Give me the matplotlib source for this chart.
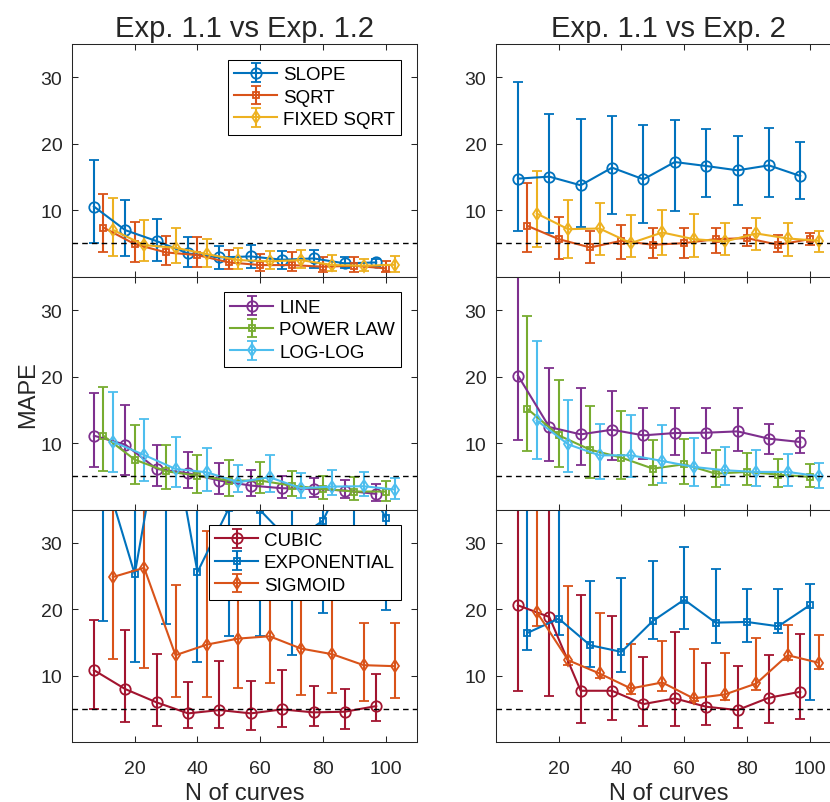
import numpy as np
import matplotlib.pyplot as plt

plt.rcParams["font.family"] = ["Liberation Sans", "DejaVu Sans"]

# MATLAB default colour order
BLUE = "#0072BD"
ORANGE = "#D95319"
YELLOW = "#EDB120"
PURPLE = "#7E2F8E"
GREEN = "#77AC30"
CYAN = "#4DBEEE"
DARKRED = "#A2142F"

n_curves = np.array([10, 20, 30, 40, 50, 60, 70, 80, 90, 100])

# ---- Exp. 1.1 vs Exp. 1.2 ----
slope_12 = [10.55, 7.0, 5.35, 3.5, 2.9, 3.05, 2.55, 2.75, 2.0, 2.15]
slope_12_hi = [17.55, 11.6, 8.75, 5.9, 4.65, 4.75, 3.9, 4.0, 2.9, 2.65]
slope_12_lo = [5.05, 3.15, 2.4, 1.5, 1.15, 1.35, 1.15, 1.25, 1.25, 1.45]
sqrt_12 = [7.4, 4.9, 3.65, 3.25, 2.15, 1.75, 1.75, 1.5, 1.65, 1.25]
sqrt_12_hi = [12.4, 8.25, 6.15, 5.95, 4.0, 3.4, 3.65, 2.9, 2.9, 2.4]
sqrt_12_lo = [3.65, 2.25, 1.75, 1.45, 1.15, 0.9, 0.9, 0.65, 0.75, 0.65]
fixed_12 = [7.05, 4.75, 4.35, 3.4, 2.5, 2.3, 2.5, 1.75, 1.65, 1.8]
fixed_12_hi = [11.9, 8.5, 7.4, 5.65, 4.3, 3.85, 4.05, 3.25, 2.65, 3.15]
fixed_12_lo = [3.15, 2.4, 2.0, 1.4, 1.15, 1.15, 1.25, 0.9, 0.9, 0.65]

line_12 = [11.1, 9.75, 6.1, 5.45, 4.35, 3.6, 3.2, 3.1, 2.85, 2.35]
line_12_hi = [17.45, 15.75, 9.75, 8.7, 7.0, 6.0, 5.1, 4.7, 4.45, 3.85]
line_12_lo = [6.45, 5.2, 3.6, 3.2, 2.35, 2.0, 1.75, 1.85, 1.75, 1.35]
power_12 = [11.1, 7.5, 5.75, 5.1, 4.35, 4.35, 3.6, 3.1, 2.7, 2.7]
power_12_hi = [18.35, 12.7, 9.7, 8.25, 7.45, 7.2, 5.85, 5.1, 4.85, 4.35]
power_12_lo = [5.85, 3.85, 3.1, 2.5, 2.1, 2.45, 2.1, 1.6, 1.45, 1.35]
loglog_12 = [10.2, 8.2, 6.1, 5.6, 4.1, 4.85, 3.2, 3.45, 3.5, 3.0]
loglog_12_hi = [17.6, 13.6, 10.85, 9.2, 6.7, 8.25, 5.5, 5.95, 5.6, 4.7]
loglog_12_lo = [5.7, 4.35, 3.45, 2.85, 2.7, 2.7, 1.75, 2.2, 2.1, 1.6]

cubic_12 = [10.85, 8.0, 6.0, 4.35, 4.85, 4.35, 4.95, 4.5, 4.6, 5.45]
cubic_12_hi = [18.35, 16.95, 13.25, 9.1, 12.25, 9.2, 10.85, 8.5, 8.0, 10.25]
cubic_12_lo = [4.95, 3.1, 2.5, 2.1, 2.2, 1.85, 2.35, 2.45, 1.95, 3.2]
expo_12 = [41.0, 25.3, 52.0, 25.6, 35.2, 34.9, 30.0, 33.35, 43.0, 33.75]
expo_12_hi = [60.0, 45.0, 70.0, 45.0, 50.0, 50.0, 48.0, 48.0, 60.0, 48.0]
expo_12_lo = [18.2, 12.1, 17.75, 12.1, 15.95, 16.0, 13.2, 19.45, 27.0, 19.95]
sigm_12 = [24.85, 26.25, 13.1, 14.7, 15.6, 15.95, 14.1, 13.25, 11.6, 11.45]
sigm_12_hi = [40.0, 40.0, 23.7, 31.75, 28.0, 27.0, 25.0, 24.0, 17.95, 18.0]
sigm_12_lo = [12.6, 11.25, 6.75, 6.75, 8.2, 8.85, 7.1, 7.35, 6.25, 6.6]

# ---- Exp. 1.1 vs Exp. 2 ----
slope_2 = [14.75, 15.05, 13.75, 16.4, 14.65, 17.25, 16.65, 16.0, 16.75, 15.15]
slope_2_hi = [29.25, 24.5, 23.75, 24.15, 22.75, 23.55, 22.25, 21.15, 22.4, 20.3]
slope_2_lo = [6.8, 6.5, 7.55, 9.4, 8.05, 9.9, 12.05, 10.75, 12.0, 11.65]
sqrt_2 = [7.65, 5.65, 4.4, 5.4, 4.8, 5.05, 5.65, 5.8, 4.8, 5.65]
sqrt_2_hi = [14.05, 9.05, 6.9, 7.75, 7.25, 7.25, 7.25, 7.25, 6.3, 6.55]
sqrt_2_lo = [3.65, 2.65, 2.0, 2.65, 2.8, 2.8, 3.5, 4.65, 3.65, 4.8]
fixed_2 = [9.5, 7.15, 7.25, 5.05, 6.65, 5.65, 5.3, 6.5, 5.75, 5.4]
fixed_2_hi = [15.9, 11.5, 11.05, 9.25, 10.05, 9.4, 8.05, 8.9, 8.05, 6.9]
fixed_2_lo = [4.5, 2.8, 3.3, 2.9, 3.3, 3.0, 3.25, 4.05, 3.15, 3.65]

line_2 = [20.15, 12.4, 11.3, 12.0, 11.15, 11.5, 11.55, 11.75, 10.65, 10.15]
line_2_hi = [38.0, 21.3, 18.25, 17.75, 15.25, 15.25, 15.25, 15.25, 12.8, 11.75]
line_2_lo = [10.4, 7.3, 6.65, 7.4, 7.65, 8.25, 8.55, 8.75, 8.4, 8.5]
power_2 = [15.15, 11.15, 9.0, 7.8, 6.15, 6.8, 5.4, 5.65, 5.25, 4.9]
power_2_hi = [29.05, 19.55, 15.5, 14.75, 10.5, 10.65, 8.9, 8.5, 7.65, 6.8]
power_2_lo = [8.75, 6.4, 4.8, 4.65, 3.65, 3.9, 3.4, 3.75, 3.4, 3.4]
loglog_2 = [13.4, 9.8, 8.15, 8.15, 7.3, 6.4, 5.9, 5.65, 5.65, 5.0]
loglog_2_hi = [25.4, 16.5, 12.9, 14.15, 12.65, 10.8, 9.4, 9.0, 8.3, 7.05]
loglog_2_lo = [7.65, 5.65, 4.65, 4.9, 4.0, 3.5, 3.65, 3.5, 3.5, 3.25]

cubic_2 = [20.6, 18.85, 7.75, 7.75, 5.75, 6.6, 5.35, 4.85, 6.7, 7.6]
cubic_2_hi = [40.0, 40.0, 22.1, 18.95, 12.85, 16.6, 11.95, 11.5, 13.1, 16.35]
cubic_2_lo = [7.75, 7.0, 2.95, 3.35, 2.5, 2.45, 2.6, 2.1, 2.95, 3.5]
expo_2 = [16.45, 18.6, 14.6, 13.6, 18.25, 21.45, 18.0, 18.1, 17.45, 20.6]
expo_2_hi = [40.0, 40.0, 24.25, 24.75, 27.25, 29.35, 26.1, 23.1, 23.0, 23.85]
expo_2_lo = [13.85, 16.2, 11.35, 10.6, 15.6, 17.1, 15.0, 15.1, 16.45, 6.35]
sigm_2 = [19.6, 12.35, 10.35, 8.1, 9.0, 6.6, 7.2, 8.85, 13.1, 11.95]
sigm_2_hi = [40.0, 23.45, 19.5, 14.85, 15.2, 14.0, 13.45, 15.7, 17.7, 16.2]
sigm_2_lo = [17.5, 11.6, 9.6, 7.2, 7.7, 6.2, 6.35, 7.85, 12.35, 11.1]

titles = ["Exp. 1.1 vs Exp. 1.2", "Exp. 1.1 vs Exp. 2"]
row_labels = [
    ["SLOPE", "SQRT", "FIXED SQRT"],
    ["LINE", "POWER LAW", "LOG-LOG"],
    ["CUBIC", "EXPONENTIAL", "SIGMOID"],
]
row_colors = [
    [BLUE, ORANGE, YELLOW],
    [PURPLE, GREEN, CYAN],
    [DARKRED, BLUE, ORANGE],
]
panels = {
    (0, 0): [(slope_12, slope_12_lo, slope_12_hi), (sqrt_12, sqrt_12_lo, sqrt_12_hi), (fixed_12, fixed_12_lo, fixed_12_hi)],
    (0, 1): [(slope_2, slope_2_lo, slope_2_hi), (sqrt_2, sqrt_2_lo, sqrt_2_hi), (fixed_2, fixed_2_lo, fixed_2_hi)],
    (1, 0): [(line_12, line_12_lo, line_12_hi), (power_12, power_12_lo, power_12_hi), (loglog_12, loglog_12_lo, loglog_12_hi)],
    (1, 1): [(line_2, line_2_lo, line_2_hi), (power_2, power_2_lo, power_2_hi), (loglog_2, loglog_2_lo, loglog_2_hi)],
    (2, 0): [(cubic_12, cubic_12_lo, cubic_12_hi), (expo_12, expo_12_lo, expo_12_hi), (sigm_12, sigm_12_lo, sigm_12_hi)],
    (2, 1): [(cubic_2, cubic_2_lo, cubic_2_hi), (expo_2, expo_2_lo, expo_2_hi), (sigm_2, sigm_2_lo, sigm_2_hi)],
}
markers = ["o", "s", "d"]
msizes = [7.5, 5.0, 6.5]
dodge = [-3, 0, 3]

W, H = 830, 803
fig = plt.figure(figsize=(W / 100, H / 100), dpi=100)
col_left = [72, 496]
ax_w = 345
row_top = [45, 277.8, 510.6]
ax_h = 232.7
AXC = "#262626"

for (r, c), series in panels.items():
    ax = fig.add_axes([col_left[c] / W, 1 - (row_top[r] + ax_h) / H, ax_w / W, ax_h / H])
    for k, (mid, lo, hi) in enumerate(series):
        mid = np.array(mid)
        yerr = [mid - np.array(lo), np.array(hi) - mid]
        ax.errorbar(n_curves + dodge[k], mid, yerr=yerr, color=row_colors[r][k],
                    marker=markers[k], ms=msizes[k], mfc="none", mew=1.3,
                    lw=1.5, elinewidth=1.5, capsize=3.5, capthick=1.5,
                    label=row_labels[r][k])
    ax.axhline(5, color="black", ls=(0, (4, 3)), lw=1.0, zorder=5)
    ax.set_xlim(0, 110)
    ax.set_ylim(0, 35)
    ax.set_xticks([20, 40, 60, 80, 100])
    ax.set_yticks([10, 20, 30])
    ax.tick_params(direction="in", top=True, right=True, length=4,
                   width=0.75, colors=AXC, labelsize=14, pad=7)
    ax.tick_params(axis="x", pad=12.5)
    for s in ax.spines.values():
        s.set_color(AXC)
        s.set_linewidth(0.75)
    if r < 2:
        ax.tick_params(labelbottom=False)
    else:
        ax.set_xlabel("N of curves", fontsize=17, color=AXC, labelpad=3.5)
    if r == 0:
        ax.set_title(titles[c], fontsize=21, color=AXC, pad=6)
    if r == 1 and c == 0:
        ax.set_ylabel("MAPE", fontsize=17, color=AXC, labelpad=1)
    if c == 0:
        leg = ax.legend(loc="upper right", bbox_to_anchor=(0.955, 0.933),
                        fontsize=13.5, handlelength=2.3, handletextpad=0.3,
                        labelspacing=0.28, borderpad=0.35, fancybox=False,
                        framealpha=1.0, edgecolor="black", borderaxespad=0)
        leg.get_frame().set_linewidth(0.75)
        leg.set_zorder(10)

fig.savefig("out.png", dpi=100)
